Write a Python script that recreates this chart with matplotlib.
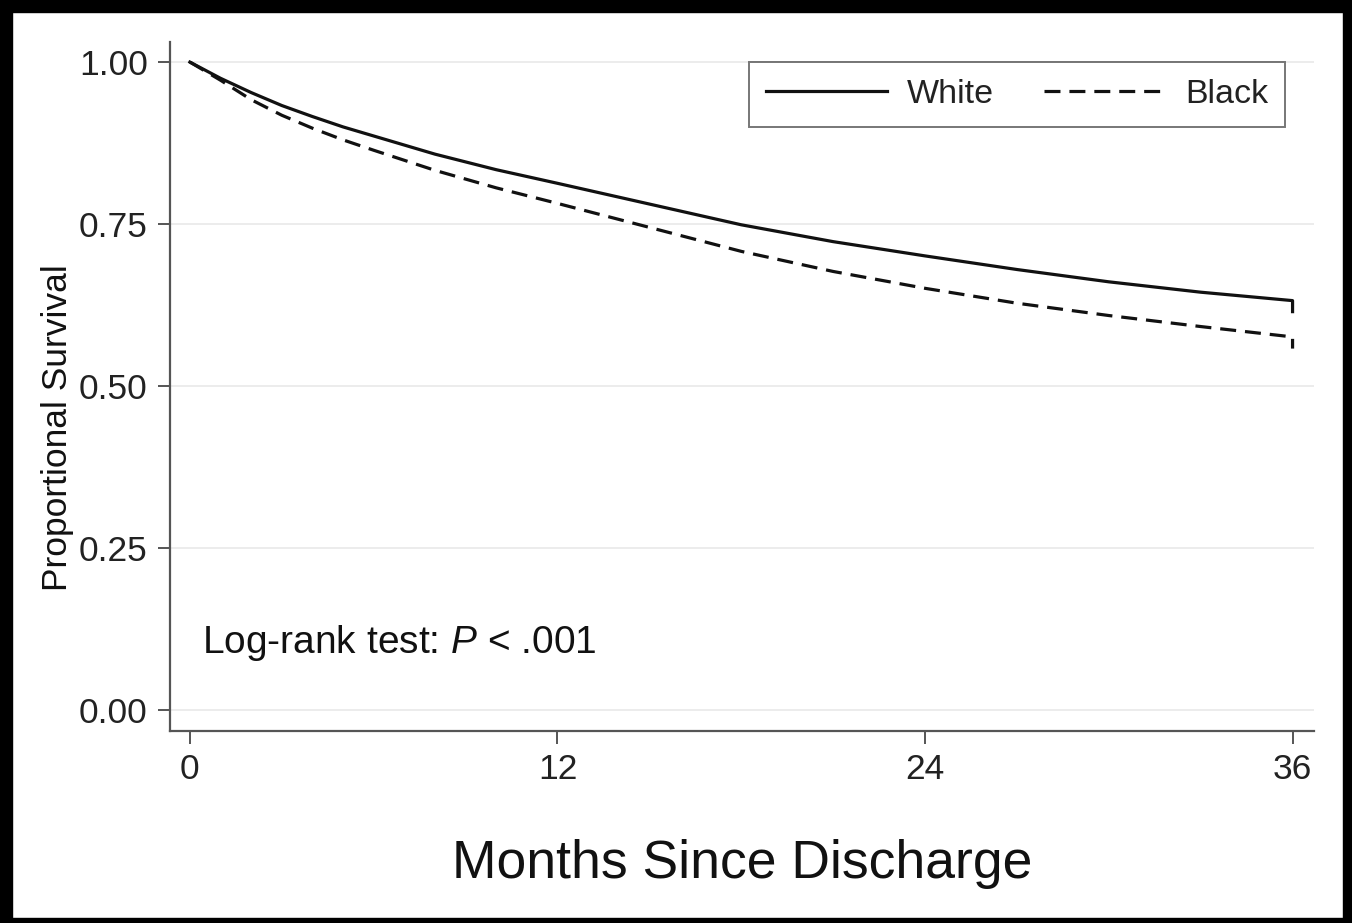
import matplotlib
matplotlib.use("Agg")
import matplotlib.pyplot as plt
from matplotlib.patches import Rectangle

plt.rcParams['font.family'] = ['Liberation Sans', 'DejaVu Sans']
plt.rcParams['mathtext.fontset'] = 'custom'
plt.rcParams['mathtext.rm'] = 'Liberation Sans'
plt.rcParams['mathtext.it'] = 'Liberation Sans:italic'

# survival curves (months, proportion)
months = [0, 1, 2, 3, 4, 5, 6, 8, 10, 12, 15, 18, 21, 24, 27, 30, 33, 36, 36]
white = [1.0, 0.975, 0.953, 0.933, 0.916, 0.900, 0.886, 0.858, 0.834, 0.813,
         0.781, 0.749, 0.723, 0.701, 0.680, 0.661, 0.645, 0.632, 0.615]
black = [1.0, 0.972, 0.942, 0.918, 0.898, 0.880, 0.864, 0.833, 0.806, 0.782,
         0.745, 0.708, 0.677, 0.651, 0.628, 0.609, 0.592, 0.576, 0.558]

x_ticks = [0, 12, 24, 36]
y_ticks = [0.00, 0.25, 0.50, 0.75, 1.00]
y_ticklabels = ['0.00', '0.25', '0.50', '0.75', '1.00']

fig = plt.figure(figsize=(13.52, 9.23), dpi=100)
ax = fig.add_axes([170 / 1352, 1 - 731 / 923, 1144 / 1352, 689 / 923])

ax.plot(months, white, color='#111111', lw=2.3, ls='-', label='White')
ax.plot(months, black, color='#111111', lw=2.3, ls=(0, (5.0, 2.8)), label='Black')

ax.set_xlim(-0.65, 36.7)
ax.set_ylim(-0.032, 1.031)
ax.set_xticks(x_ticks)
ax.set_yticks(y_ticks)
ax.set_yticklabels(y_ticklabels)

for s in ['top', 'right']:
    ax.spines[s].set_visible(False)
for s in ['left', 'bottom']:
    ax.spines[s].set_color('#555555')
    ax.spines[s].set_linewidth(1.6)

ax.tick_params(axis='both', direction='out', length=9, width=1.4, color='#555555',
               labelsize=25.5, labelcolor='#222222', pad=7)
ax.grid(axis='y', color='#ececec', lw=1.4)
ax.set_axisbelow(True)

ax.set_ylabel('Proportional Survival', fontsize=25.5, color='#111111')
ax.yaxis.set_label_coords(-0.084, 0.44)
ax.set_xlabel('Months Since Discharge', fontsize=38.5, color='#111111', labelpad=38)

ax.text(0.39, 0.088, 'Log-rank test: $P$ < .001', fontsize=28, color='#111111',
        ha='left', va='baseline')

leg = ax.legend(loc='upper right', bbox_to_anchor=(0.9747, 0.971), borderaxespad=0,
                ncol=2, fontsize=24.5, frameon=True, fancybox=False,
                handlelength=3.55, columnspacing=1.45, handletextpad=0.6,
                borderpad=0.5, edgecolor='#555555')
leg.get_frame().set_linewidth(1.4)
for t in leg.get_texts():
    t.set_color('#222222')

# thick black frame around the whole picture
fig.patches.append(Rectangle((0, 0), 12 / 1352, 1, transform=fig.transFigure, color='black'))
fig.patches.append(Rectangle((1343 / 1352, 0), 9 / 1352, 1, transform=fig.transFigure, color='black'))
fig.patches.append(Rectangle((0, 1 - 12 / 923), 1, 12 / 923, transform=fig.transFigure, color='black'))
fig.patches.append(Rectangle((0, 0), 1, 5 / 923, transform=fig.transFigure, color='black'))

fig.savefig('out.png', dpi=100)
